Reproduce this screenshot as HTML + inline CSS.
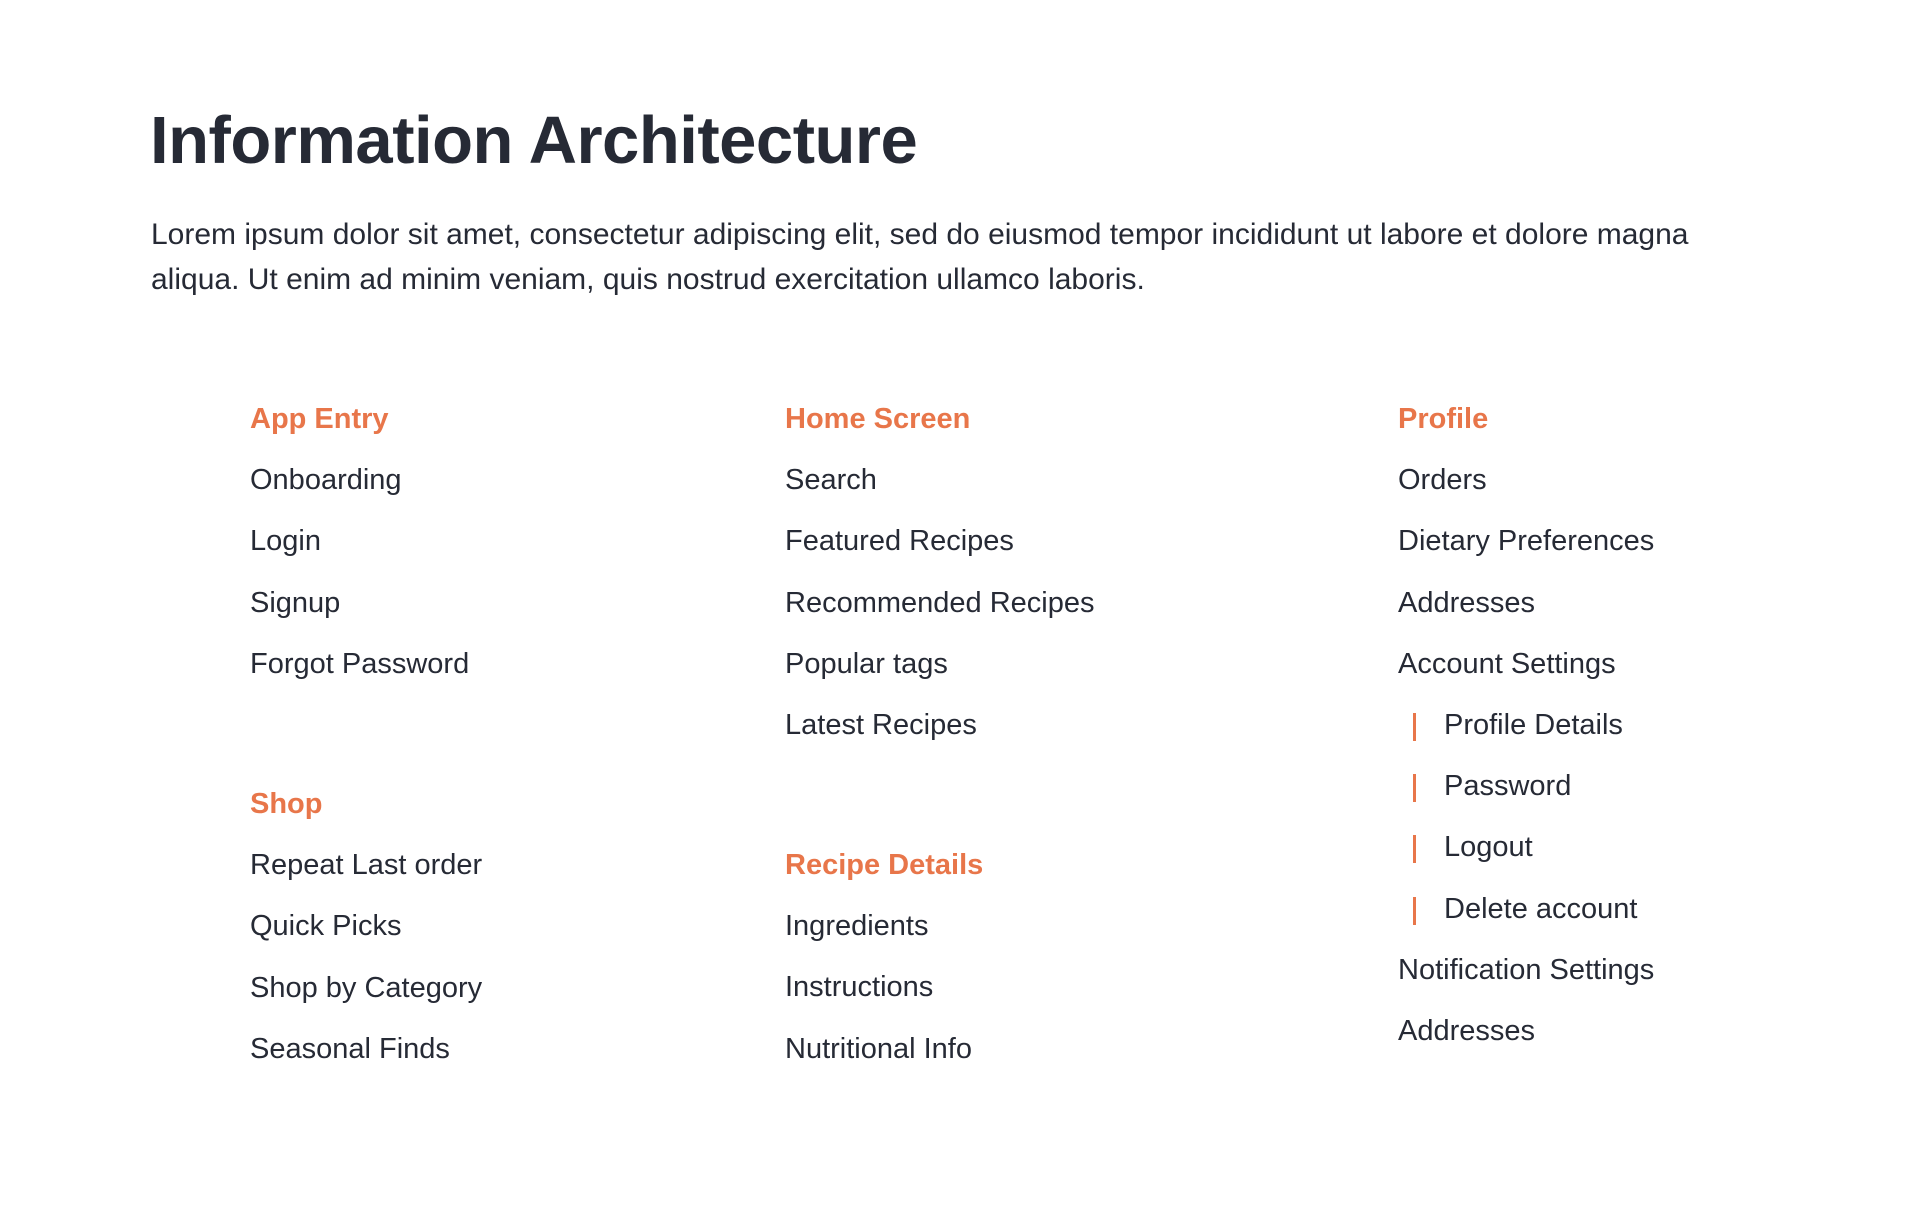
<!DOCTYPE html>
<html><head><meta charset="utf-8"><style>
html,body{margin:0;padding:0;background:#fff;}
body{width:1920px;height:1206px;position:relative;overflow:hidden;font-family:"Liberation Sans",sans-serif;color:#262a35;}
h1{position:absolute;left:150px;top:101px;margin:0;font-size:67px;font-weight:bold;letter-spacing:-0.5px;line-height:80px;color:#262a35;}
p{position:absolute;left:151px;top:212px;margin:0;font-size:30px;line-height:45px;color:#262a35;white-space:nowrap;}
.g{position:absolute;font-size:29px;line-height:61.2px;white-space:nowrap;}
.g div{height:61.2px;}
.h{color:#e8764a;font-weight:bold;}
.s{position:relative;padding-left:46px;}
.s:before{content:"";position:absolute;left:15px;top:18px;width:3px;height:28px;background:#e8764a;}
</style></head><body>
<h1>Information Architecture</h1>
<p>Lorem ipsum dolor sit amet, consectetur adipiscing elit, sed do eiusmod tempor incididunt ut labore et dolore magna<br>aliqua. Ut enim ad minim veniam, quis nostrud exercitation ullamco laboris.</p>

<div class="g" style="left:250px;top:389px">
<div class="h">App Entry</div><div>Onboarding</div><div>Login</div><div>Signup</div><div>Forgot Password</div>
</div>
<div class="g" style="left:250px;top:774px">
<div class="h">Shop</div><div>Repeat Last order</div><div>Quick Picks</div><div>Shop by Category</div><div>Seasonal Finds</div>
</div>

<div class="g" style="left:785px;top:389px">
<div class="h">Home Screen</div><div>Search</div><div>Featured Recipes</div><div>Recommended Recipes</div><div>Popular tags</div><div>Latest Recipes</div>
</div>
<div class="g" style="left:785px;top:835px">
<div class="h">Recipe Details</div><div>Ingredients</div><div>Instructions</div><div>Nutritional Info</div>
</div>

<div class="g" style="left:1398px;top:389px">
<div class="h">Profile</div><div>Orders</div><div>Dietary Preferences</div><div>Addresses</div><div>Account Settings</div>
<div class="s">Profile Details</div><div class="s">Password</div><div class="s">Logout</div><div class="s">Delete account</div>
<div>Notification Settings</div><div>Addresses</div>
</div>
</body></html>
